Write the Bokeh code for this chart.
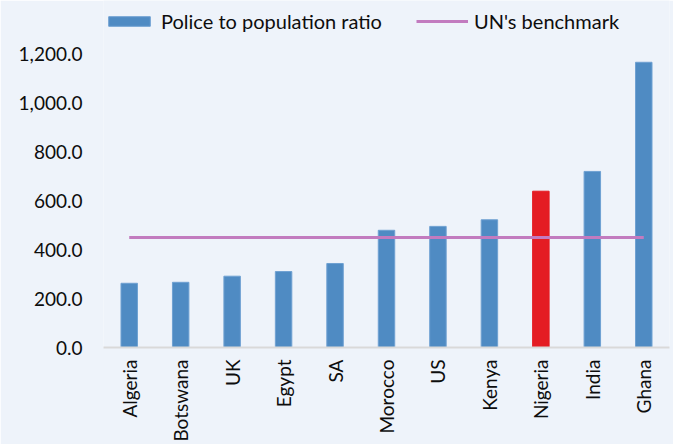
from math import pi
from bokeh.plotting import figure
from bokeh.models import (ColumnDataSource, Range1d, FactorRange, FixedTicker,
                          NumeralTickFormatter, Legend, LegendItem)
from bokeh.embed import file_html
from bokeh.resources import INLINE

# ---- data ----
countries = ["Algeria", "Botswana", "UK", "Egypt", "SA", "Morocco", "US",
             "Kenya", "Nigeria", "India", "Ghana"]
ratio = [263, 267, 292, 311, 344, 480, 496, 523, 640, 721, 1168]
un_benchmark = [450] * len(countries)
y_ticks = [0, 200, 400, 600, 800, 1000, 1200]
highlight = "Nigeria"

# ---- style ----
FONT = "Lato"
BG = "#EEF3FA"
BLUE = "#4F8BC3"
BLUE_EDGE = "#6FA1D2"
RED = "#E41C23"
PINK = "#C27BBF"
TXT = "#0D0D0D"

colors = [RED if c == highlight else BLUE for c in countries]
edges = [RED if c == highlight else BLUE_EDGE for c in countries]

src = ColumnDataSource(dict(country=countries, ratio=ratio, bench=un_benchmark,
                            color=colors, edge=edges))

# frame spans from the top of the page down to the x axis; the headroom above
# 1200 holds the legend
p = figure(width=673, height=444, x_range=FactorRange(*countries, range_padding=0),
           y_range=Range1d(0, 1421), output_backend="svg", toolbar_location=None,
           min_border_left=103, min_border_right=4, min_border_top=0,
           min_border_bottom=97)
p.background_fill_color = BG
p.border_fill_color = BG
p.outline_line_color = None
p.grid.visible = False

bars = p.vbar(x="country", top="ratio", width=0.32, source=src,
              fill_color="color", line_color="edge", line_width=1)
line = p.line(x="country", y="bench", source=src, line_color=PINK, line_width=3)

# y axis
p.yaxis.ticker = FixedTicker(ticks=y_ticks)
p.yaxis.formatter = NumeralTickFormatter(format="0,0.0")
p.yaxis.axis_line_color = None
p.yaxis.major_tick_line_color = None
p.yaxis.minor_tick_line_color = None
p.yaxis.major_tick_out = 0
p.yaxis.major_label_standoff = 21
p.yaxis.major_label_text_font = FONT
p.yaxis.major_label_text_font_size = "19px"
p.yaxis.major_label_text_color = TXT

# x axis
p.xaxis.axis_line_color = "#D9D9D9"
p.xaxis.axis_line_width = 2
p.xaxis.major_tick_line_color = None
p.xaxis.minor_tick_line_color = None
p.xaxis.major_tick_out = 0
p.xaxis.major_label_standoff = 12
p.xaxis.major_label_orientation = pi / 2
p.xaxis.major_label_text_font = FONT
p.xaxis.major_label_text_font_size = "19px"
p.xaxis.major_label_text_color = TXT

legend = Legend(items=[LegendItem(label="Police to population ratio", renderers=[bars], index=0),
                       LegendItem(label="UN's benchmark", renderers=[line])],
                orientation="horizontal", location=(0, 314),
                glyph_width=52, glyph_height=12, label_standoff=6, spacing=34,
                padding=0, margin=0, background_fill_alpha=0, border_line_color=None,
                label_text_font=FONT, label_text_font_size="20px", label_text_color=TXT)
p.add_layout(legend, "center")

open("out.html", "w").write(file_html(p, INLINE))
